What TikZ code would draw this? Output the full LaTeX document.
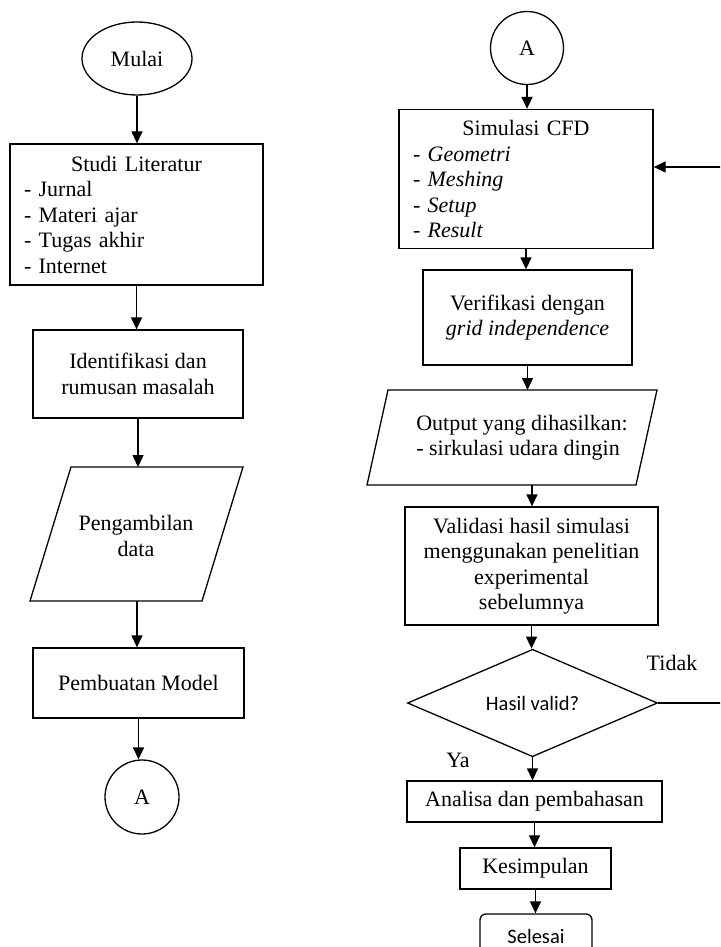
\documentclass[tikz,border=0pt]{standalone}
\usepackage{fontspec}
\setmainfont{Liberation Serif}
\newfontfamily\calfont{Carlito}
\usetikzlibrary{shapes.geometric,arrows.meta}
\begin{document}
\begin{tikzpicture}[x=1pt,y=-1pt,
  every node/.style={font=\fontsize{22}{25.5}\selectfont},
  box/.style={draw, line width=1.3pt, inner sep=0pt, align=center},
  listbox/.style={box, align=left, inner xsep=14pt},
  arr/.style={-{Triangle[length=12pt,width=11pt]}, line width=1.3pt},
  ln/.style={line width=1.3pt},
  calib/.style={font=\calfont\fontsize{20.5}{24}\selectfont}
]
\useasboundingbox (0,0) rectangle (720,947);
\clip (0,0) rectangle (720,947);

% ---------- left column ----------
\node[box, ellipse, minimum width=110pt, minimum height=73pt] (mulai) at (137,58.5) {Mulai};
\node[listbox, minimum width=253pt, minimum height=141pt, text width=225pt] (studi) at (136.5,214.5)
  {\makebox[225pt]{Studi Literatur}\\- Jurnal\\- Materi ajar\\- Tugas akhir\\- Internet};
\node[box, minimum width=210pt, minimum height=88pt] (ident) at (138,374) {Identifikasi dan\\rumusan masalah};
\node[align=center] (peng) at (136,536) {Pengambilan\\data};
\draw[ln] (71,467) -- (243,467) -- (202,601) -- (30,601) -- cycle;
\coordinate (pengT) at (137,467);
\coordinate (pengB) at (137,601);
\node[box, minimum width=211pt, minimum height=70pt] (model) at (138.5,683) {Pembuatan Model};
\node[box, circle, minimum size=74pt] (ca) at (142,797) {A};

\draw[arr] (mulai.south) -- (mulai.south |- studi.north);
\draw[arr] (studi.south) -- (studi.south |- ident.north);
\draw[arr] (ident.south) -- (ident.south |- pengT);
\draw[arr] (pengB) -- (pengB |- model.north);
\draw[arr] (model.south) -- (model.south |- ca.north);

% ---------- right column ----------
\node[box, circle, minimum size=73pt] (cb) at (527,48) {A};
\node[listbox, minimum width=254pt, minimum height=139pt, text width=226pt] (cfd) at (526,179)
  {\makebox[226pt]{Simulasi CFD}\\- \textit{Geometri}\\- \textit{Meshing}\\- \textit{Setup}\\- \textit{Result}};
\node[box, minimum width=209pt, minimum height=95pt] (verif) at (527.5,317.5) {Verifikasi dengan\\\textit{grid independence}};
\node[align=left] (out) at (522,437.5) {Output yang dihasilkan:\\- sirkulasi udara dingin};
\draw[ln] (388,390) -- (657,390) -- (636,485) -- (367,485) -- cycle;
\coordinate (outT) at (527,390);
\coordinate (outB) at (532,485);
\node[box, minimum width=253pt, minimum height=118pt] (valid) at (531.5,566)
  {Validasi hasil simulasi\\menggunakan penelitian\\experimental\\sebelumnya};
\node[box, diamond, minimum width=250pt, minimum height=106pt, calib] (dia) at (532.5,703) {Hasil valid?};
\node[box, minimum width=255pt, minimum height=41pt] (anal) at (534.5,801.5) {Analisa dan pembahasan};
\node[box, minimum width=151pt, minimum height=41pt] (kes) at (535.5,868.5) {Kesimpulan};
\node[box, rounded corners=6pt, minimum width=112pt, minimum height=44pt, calib] (sel) at (536,936) {Selesai};

\node (tidak) at (672,663) {Tidak};
\node (ya) at (458,760) {Ya};

\coordinate (fbR) at (725,703);
\coordinate (fbT) at (725,167);

\draw[arr] (cb.south) -- (cb.south |- cfd.north);
\draw[arr] (cfd.south) -- (cfd.south |- verif.north);
\draw[arr] (verif.south) -- (verif.south |- outT);
\draw[arr] (outB) -- (outB |- valid.north);
\draw[arr] (valid.south) -- (valid.south |- dia.north);
\draw[arr] (dia.south) -- (dia.south |- anal.north);
\draw[arr] (anal.south) -- (anal.south |- kes.north);
\draw[arr] (kes.south) -- (kes.south |- sel.north);
\draw[ln] (dia.east) -- (fbR);
\draw[arr] (fbT) -- (fbT -| cfd.east);
\end{tikzpicture}
\end{document}
